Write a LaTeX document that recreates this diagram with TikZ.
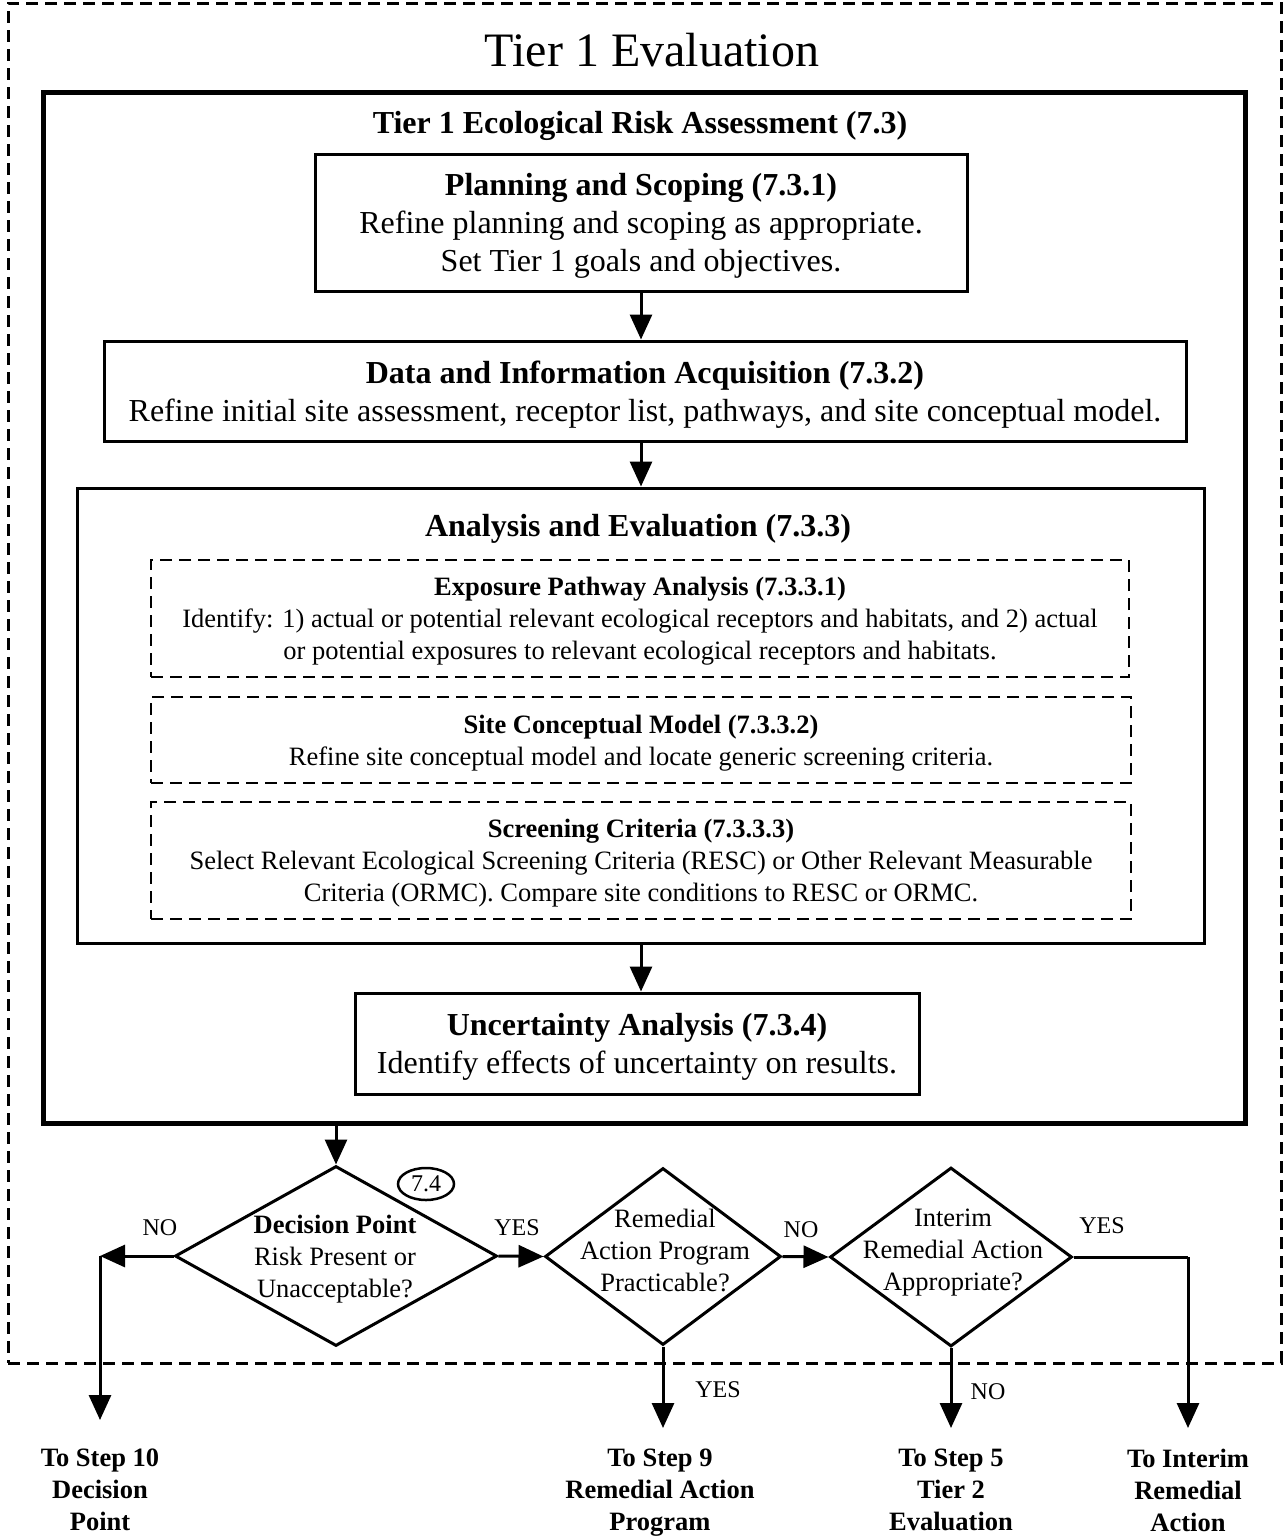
\documentclass[tikz,border=0pt]{standalone}
\usepackage{fontspec}
\setmainfont{Liberation Serif}
\usetikzlibrary{arrows.meta,shapes.geometric}

\newcommand{\bigsz}{\fontsize{32}{38}\selectfont}
\newcommand{\midsz}{\fontsize{26.5}{32}\selectfont}
\newcommand{\lblsz}{\fontsize{24}{28}\selectfont}

\tikzset{
  every node/.append style={text depth=0pt},
  box/.style={draw, line width=3pt, inner sep=0pt, align=center},
  dbox/.style={draw, line width=2.5pt, dash pattern=on 12pt off 7pt, inner sep=0pt, align=center},
  dia/.style={draw, diamond, line width=3pt, inner sep=0pt},
  arr/.style={-{Triangle[length=25pt,width=22pt]}, line width=3pt},
  lbl/.style={font=\lblsz},
}

\begin{document}
\begin{tikzpicture}[x=1pt,y=-1pt]
\useasboundingbox (0,0) rectangle (1287,1539);

%outer frame
\node[dbox, line width=3pt, minimum width=1273pt, minimum height=1360pt] (frame) at (644.5,683) {};
\node[font=\fontsize{48}{56}\selectfont] (title) at (652,50) {Tier 1 Evaluation};

%tier 1 box
\node[box, line width=5pt, minimum width=1202pt, minimum height=1031pt] (tier) at (644,607.5) {};
\node[font=\bigsz\bfseries] (tiertitle) at (640,122) {Tier 1 Ecological Risk Assessment (7.3)};

%planning
\node[box, minimum width=652pt, minimum height=137pt, font=\bigsz] (plan) at (641,222.5) {\textbf{Planning and Scoping (7.3.1)}\\Refine planning and scoping as appropriate.\\Set Tier 1 goals and objectives.};

%data
\node[box, minimum width=1082pt, minimum height=100pt, font=\bigsz] (data) at (645,391) {\textbf{Data and Information Acquisition (7.3.2)}\\Refine initial site assessment, receptor list, pathways, and site conceptual model.};

%analysis
\node[box, minimum width=1127pt, minimum height=455pt] (ana) at (640.5,715.5) {};
\node[font=\bigsz\bfseries] (anatitle) at (638,525) {Analysis and Evaluation (7.3.3)};

\node[dbox, minimum width=978pt, minimum height=117pt, font=\midsz] (exp) at (640,618.5) {\textbf{Exposure Pathway Analysis (7.3.3.1)}\\Identify: 1) actual or potential relevant ecological receptors and habitats, and 2) actual\\or potential exposures to relevant ecological receptors and habitats.};
\node[dbox, minimum width=980pt, minimum height=86pt, font=\midsz] (scm) at (641,740) {\textbf{Site Conceptual Model (7.3.3.2)}\\Refine site conceptual model and locate generic screening criteria.};
\node[dbox, minimum width=980pt, minimum height=117pt, font=\midsz] (scr) at (641,860.5) {\textbf{Screening Criteria (7.3.3.3)}\\Select Relevant Ecological Screening Criteria (RESC) or Other Relevant Measurable\\Criteria (ORMC). Compare site conditions to RESC or ORMC.};

%uncertainty
\node[box, minimum width=564pt, minimum height=101pt, font=\bigsz] (unc) at (637,1043.5) {\textbf{Uncertainty Analysis (7.3.4)}\\Identify effects of uncertainty on results.};

\draw[arr] (plan.south) -- (plan.south |- data.north);
\draw[arr] (plan.south |- data.south) -- (plan.south |- ana.north);
\draw[arr] (plan.south |- ana.south) -- (plan.south |- unc.north);

%decisions
\node[dia, minimum width=322pt, minimum height=180pt] (d1) at (336,1256) {};
\node[font=\midsz, align=center] (d1txt) at (335,1256) {\textbf{Decision Point}\\Risk Present or\\Unacceptable?};
\node[draw, ellipse, line width=2.5pt, minimum width=56pt, minimum height=32pt, inner sep=0pt, font=\lblsz] (sec) at (426,1184) {7.4};

\node[dia, minimum width=236pt, minimum height=177pt] (d2) at (663,1256.5) {};
\node[font=\midsz, align=center] (d2txt) at (665,1250) {Remedial\\Action Program\\Practicable?};

\node[dia, minimum width=242pt, minimum height=179pt] (d3) at (951,1257) {};
\node[font=\midsz, align=center] (d3txt) at (953,1250) {Interim\\Remedial Action\\Appropriate?};

\draw[arr] (tier.south -| d1.north) -- (d1.north);
\draw[arr] (d1.east) -- (d2.west);
\draw[arr] (d2.east) -- (d3.west);

%exits
\coordinate (nocorner) at (100,1256);
\coordinate (to10) at (100,1420);
\coordinate (yescorner) at (1188,1257);
\coordinate (toint) at (1188,1428);
\draw[arr] (d1.west) -- (nocorner);
\draw[arr] (nocorner) -- (to10);
\draw[line width=3pt] (d3.east) -- (yescorner);
\draw[arr] (yescorner) -- (toint);
\draw[arr] (d2.south) -- (d2.south |- toint);
\draw[arr] (d3.south) -- (d3.south |- toint);

\node[lbl] (no1) at (160,1228) {NO};
\node[lbl] (yes1) at (517,1228) {YES};
\node[lbl] (no2) at (801,1230) {NO};
\node[lbl] (yes3) at (1102,1226) {YES};
\node[lbl] (yes2) at (718,1390) {YES};
\node[lbl] (no3) at (988,1392) {NO};

%targets
\node[font=\midsz\bfseries, align=center] (t10) at (100,1490) {To Step 10\\Decision\\Point};
\node[font=\midsz\bfseries, align=center] (t9) at (660,1490) {To Step 9\\Remedial Action\\Program};
\node[font=\midsz\bfseries, align=center] (t5) at (951,1490) {To Step 5\\Tier 2\\Evaluation};
\node[font=\midsz\bfseries, align=center] (tint) at (1188,1490) {To Interim\\Remedial\\Action};
\end{tikzpicture}
\end{document}
